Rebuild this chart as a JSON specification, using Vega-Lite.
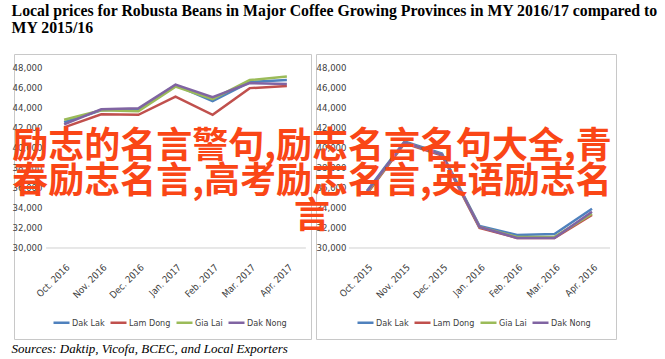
{
  "$schema": "https://vega.github.io/schema/vega-lite/v6.json",
  "background": "white",
  "padding": {"left": 11, "top": 2, "right": 0, "bottom": 0},
  "config": {
    "view": {"stroke": "#C8C8C8", "strokeWidth": 1},
    "axis": {"grid": false, "ticks": false, "domain": false, "labelFont": "Liberation Sans Narrow, DejaVu Sans Condensed, Liberation Sans, sans-serif", "labelFontSize": 9.5, "labelColor": "#404040", "title": null},
    "legend": {"labelFont": "Liberation Sans Narrow, DejaVu Sans Condensed, Liberation Sans, sans-serif", "labelFontSize": 9, "labelColor": "#404040", "padding": 0}
  },
  "datasets": {
    "s1617": [
      {"month": "Oct. 2016", "province": "Dak Lak", "price": 42500},
      {"month": "Nov. 2016", "province": "Dak Lak", "price": 43700},
      {"month": "Dec. 2016", "province": "Dak Lak", "price": 43800},
      {"month": "Jan. 2017", "province": "Dak Lak", "price": 46200},
      {"month": "Feb. 2017", "province": "Dak Lak", "price": 44600},
      {"month": "Mar. 2017", "province": "Dak Lak", "price": 46500},
      {"month": "Apr. 2017", "province": "Dak Lak", "price": 46700},
      {"month": "Oct. 2016", "province": "Lam Dong", "price": 42000},
      {"month": "Nov. 2016", "province": "Lam Dong", "price": 43300},
      {"month": "Dec. 2016", "province": "Lam Dong", "price": 43250},
      {"month": "Jan. 2017", "province": "Lam Dong", "price": 45050},
      {"month": "Feb. 2017", "province": "Lam Dong", "price": 43250},
      {"month": "Mar. 2017", "province": "Lam Dong", "price": 45900},
      {"month": "Apr. 2017", "province": "Lam Dong", "price": 46100},
      {"month": "Oct. 2016", "province": "Gia Lai", "price": 42750},
      {"month": "Nov. 2016", "province": "Gia Lai", "price": 43700},
      {"month": "Dec. 2016", "province": "Gia Lai", "price": 43600},
      {"month": "Jan. 2017", "province": "Gia Lai", "price": 46050},
      {"month": "Feb. 2017", "province": "Gia Lai", "price": 44800},
      {"month": "Mar. 2017", "province": "Gia Lai", "price": 46700},
      {"month": "Apr. 2017", "province": "Gia Lai", "price": 47050},
      {"month": "Oct. 2016", "province": "Dak Nong", "price": 42300},
      {"month": "Nov. 2016", "province": "Dak Nong", "price": 43800},
      {"month": "Dec. 2016", "province": "Dak Nong", "price": 43900},
      {"month": "Jan. 2017", "province": "Dak Nong", "price": 46250},
      {"month": "Feb. 2017", "province": "Dak Nong", "price": 45000},
      {"month": "Mar. 2017", "province": "Dak Nong", "price": 46400},
      {"month": "Apr. 2017", "province": "Dak Nong", "price": 46300}
    ],
    "s1516": [
      {"month": "Oct. 2015", "province": "Dak Lak", "price": 35700},
      {"month": "Nov. 2015", "province": "Dak Lak", "price": 40600},
      {"month": "Dec. 2015", "province": "Dak Lak", "price": 39400},
      {"month": "Jan. 2016", "province": "Dak Lak", "price": 32200},
      {"month": "Feb. 2016", "province": "Dak Lak", "price": 31300},
      {"month": "Mar. 2016", "province": "Dak Lak", "price": 31400},
      {"month": "Apr. 2016", "province": "Dak Lak", "price": 33900},
      {"month": "Oct. 2015", "province": "Lam Dong", "price": 35400},
      {"month": "Nov. 2015", "province": "Lam Dong", "price": 40400},
      {"month": "Dec. 2015", "province": "Lam Dong", "price": 39200},
      {"month": "Jan. 2016", "province": "Lam Dong", "price": 32000},
      {"month": "Feb. 2016", "province": "Lam Dong", "price": 31000},
      {"month": "Mar. 2016", "province": "Lam Dong", "price": 31000},
      {"month": "Apr. 2016", "province": "Lam Dong", "price": 33300},
      {"month": "Oct. 2015", "province": "Gia Lai", "price": 35500},
      {"month": "Nov. 2015", "province": "Gia Lai", "price": 40500},
      {"month": "Dec. 2015", "province": "Gia Lai", "price": 39300},
      {"month": "Jan. 2016", "province": "Gia Lai", "price": 32100},
      {"month": "Feb. 2016", "province": "Gia Lai", "price": 31100},
      {"month": "Mar. 2016", "province": "Gia Lai", "price": 31100},
      {"month": "Apr. 2016", "province": "Gia Lai", "price": 33400},
      {"month": "Oct. 2015", "province": "Dak Nong", "price": 35600},
      {"month": "Nov. 2015", "province": "Dak Nong", "price": 40500},
      {"month": "Dec. 2015", "province": "Dak Nong", "price": 39300},
      {"month": "Jan. 2016", "province": "Dak Nong", "price": 32100},
      {"month": "Feb. 2016", "province": "Dak Nong", "price": 31000},
      {"month": "Mar. 2016", "province": "Dak Nong", "price": 31000},
      {"month": "Apr. 2016", "province": "Dak Nong", "price": 33600}
    ]
  },
  "title": {
    "text": ["Local prices for Robusta Beans in Major Coffee Growing Provinces in MY 2016/17 compared to", "MY 2015/16"],
    "anchor": "start",
    "font": "Liberation Serif",
    "fontSize": 15.8,
    "fontWeight": "bold",
    "color": "#000000",
    "lineHeight": 17,
    "offset": 17
  },
  "vconcat": [
    {
      "title": {
        "text": "Sources: Daktip, Vicofa, BCEC, and Local Exporters",
        "orient": "bottom",
        "anchor": "start",
        "font": "Liberation Serif",
        "fontStyle": "italic",
        "fontWeight": "normal",
        "fontSize": 13,
        "color": "#000000",
        "offset": 3
      },
      "spacing": 5,
      "bounds": "flush",
      "resolve": {
        "scale": {"x": "independent", "y": "independent", "color": "independent"},
        "legend": {"color": "independent"}
      },
      "hconcat": [
        {
          "width": 297,
          "height": 285,
          "data": {"name": "s1617"},
          "encoding": {
            "y": {
              "type": "quantitative",
              "scale": {"domain": [20950, 49293], "nice": false, "zero": false},
              "axis": {"values": [30000, 32000, 34000, 36000, 38000, 40000, 42000, 44000, 46000, 48000], "format": ",.0f", "offset": -36, "labelPadding": 8}
            }
          },
          "layer": [
            {
              "mark": {"type": "line", "strokeWidth": 2.5},
              "encoding": {
                "x": {
                  "field": "month", "type": "ordinal",
                  "scale": {"type": "point", "domain": ["Oct. 2016", "Nov. 2016", "Dec. 2016", "Jan. 2017", "Feb. 2017", "Mar. 2017", "Apr. 2017"], "padding": 1.05, "align": 0.675},
                  "axis": {"orient": "bottom", "offset": -91, "labelAngle": -45, "labelPadding": 14}
                },
                "y": {"field": "price"},
                "color": {
                  "field": "province", "type": "nominal",
                  "scale": {"domain": ["Dak Lak", "Lam Dong", "Gia Lai", "Dak Nong"], "range": ["#4F81BD", "#C0504D", "#9BBB59", "#8064A2"]},
                  "legend": {"orient": "none", "legendX": 38, "legendY": 259, "direction": "horizontal", "title": null, "symbolType": "stroke", "symbolSize": 256, "symbolStrokeWidth": 2.5, "labelOffset": 1, "columnPadding": 0}
                }
              }
            },
            {
              "data": {"values": [{}]},
              "mark": {"type": "rule", "color": "#D0D0D0", "strokeWidth": 1, "xOffset": -18, "x2Offset": 19},
              "encoding": {
                "x": {"datum": "Oct. 2016", "type": "ordinal"},
                "x2": {"datum": "Apr. 2017"},
                "y": {"datum": 30000}
              }
            }
          ]
        },
        {
          "width": 300,
          "height": 285,
          "data": {"name": "s1516"},
          "encoding": {
            "y": {
              "type": "quantitative",
              "scale": {"domain": [20950, 49293], "nice": false, "zero": false},
              "axis": {"values": [30000, 32000, 34000, 36000, 38000, 40000, 42000, 44000, 46000, 48000], "format": ",.0f", "offset": -38, "labelPadding": 8}
            }
          },
          "layer": [
            {
              "mark": {"type": "line", "strokeWidth": 2.5},
              "encoding": {
                "x": {
                  "field": "month", "type": "ordinal",
                  "scale": {"type": "point", "domain": ["Oct. 2015", "Nov. 2015", "Dec. 2015", "Jan. 2016", "Feb. 2016", "Mar. 2016", "Apr. 2016"], "padding": 1.11, "align": 0.68},
                  "axis": {"orient": "bottom", "offset": -91, "labelAngle": -45, "labelPadding": 14}
                },
                "y": {"field": "price"},
                "color": {
                  "field": "province", "type": "nominal",
                  "scale": {"domain": ["Dak Lak", "Lam Dong", "Gia Lai", "Dak Nong"], "range": ["#4F81BD", "#C0504D", "#9BBB59", "#8064A2"]},
                  "legend": {"orient": "none", "legendX": 40, "legendY": 259, "direction": "horizontal", "title": null, "symbolType": "stroke", "symbolSize": 256, "symbolStrokeWidth": 2.5, "labelOffset": 1, "columnPadding": 0}
                }
              }
            },
            {
              "data": {"values": [{}]},
              "mark": {"type": "rule", "color": "#D0D0D0", "strokeWidth": 1, "xOffset": -18, "x2Offset": 18},
              "encoding": {
                "x": {"datum": "Oct. 2015", "type": "ordinal"},
                "x2": {"datum": "Apr. 2016"},
                "y": {"datum": 30000}
              }
            },
            {
              "data": {"values": [{}]},
              "mark": {
                "type": "text",
                "text": ["励志的名言警句,励志名言名句大全,青", "春励志名言,高考励志名言,英语励志名", "\u00a0\u00a0\u00a0\u00a0言"],
                "font": "Noto Sans CJK SC",
                "fontSize": 36,
                "fontWeight": "bold",
                "color": "#FA4616",
                "lineHeight": 35,
                "align": "center",
                "baseline": "middle",
                "dx": -55
              },
              "encoding": {
                "x": {"datum": "Oct. 2015", "type": "ordinal"},
                "y": {"datum": 40000}
              }
            }
          ]
        }
      ]
    }
  ]
}
